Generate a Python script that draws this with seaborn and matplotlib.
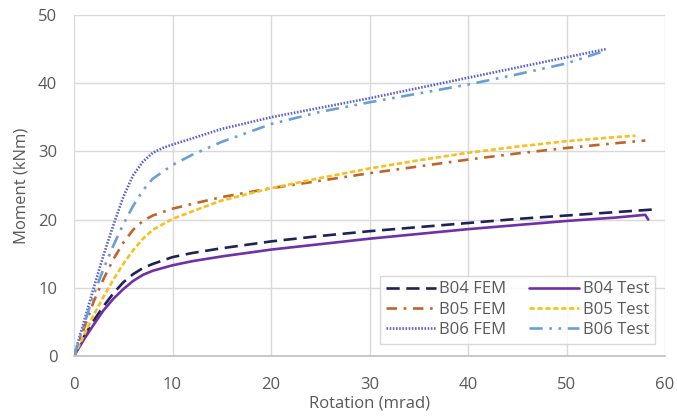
import matplotlib
matplotlib.use("Agg")
import matplotlib.pyplot as plt
from matplotlib.lines import Line2D
import seaborn as sns
import pandas as pd

# ---- data ----
b04_fem_x = [0, 1, 2, 3, 4, 5, 6, 7, 8, 10, 12, 15, 20, 25, 30, 35, 40, 45, 50, 55, 59]
b04_fem_y = [0, 2.8, 5.2, 7.3, 9.2, 10.8, 12.0, 12.9, 13.5, 14.5, 15.1, 15.8, 16.8, 17.6, 18.3, 18.9, 19.5, 20.1, 20.6, 21.1, 21.5]

b04_test_x = [0, 1, 2, 3, 4, 5, 6, 7, 8, 10, 12, 15, 20, 25, 30, 35, 40, 45, 50, 55, 58, 58.3]
b04_test_y = [0, 2.4, 4.6, 6.7, 8.4, 9.8, 11.0, 11.9, 12.5, 13.3, 13.9, 14.6, 15.6, 16.4, 17.2, 17.9, 18.6, 19.2, 19.8, 20.3, 20.7, 20.0]

b05_fem_x = [0, 1, 2, 3, 4, 5, 6, 7, 8, 10, 12, 15, 20, 25, 30, 35, 40, 45, 50, 55, 58]
b05_fem_y = [0, 4.0, 8.0, 11.3, 14.2, 16.6, 18.5, 19.8, 20.6, 21.6, 22.3, 23.3, 24.6, 25.7, 26.8, 27.8, 28.8, 29.7, 30.5, 31.2, 31.6]

b05_test_x = [0, 1, 2, 3, 4, 5, 6, 7, 8, 10, 12, 15, 20, 25, 30, 35, 40, 45, 50, 55, 57]
b05_test_y = [0, 3.0, 6.0, 8.7, 11.2, 13.5, 15.5, 17.2, 18.5, 20.1, 21.2, 22.8, 24.6, 26.1, 27.5, 28.7, 29.8, 30.7, 31.5, 32.1, 32.3]

b06_fem_x = [0, 1, 2, 3, 4, 5, 6, 7, 8, 9, 10, 12, 15, 20, 25, 30, 35, 40, 45, 50, 54]
b06_fem_y = [0, 5.0, 10.0, 14.8, 19.2, 23.3, 26.5, 28.5, 29.8, 30.5, 31.0, 31.9, 33.3, 35.0, 36.4, 37.8, 39.3, 40.8, 42.3, 43.8, 45.0]

b06_test_x = [0, 1, 2, 3, 4, 5, 6, 7, 8, 10, 12, 15, 20, 25, 30, 35, 40, 45, 50, 54]
b06_test_y = [0, 4.5, 9.0, 12.8, 16.2, 19.3, 22.0, 24.3, 26.0, 28.0, 29.5, 31.4, 34.0, 35.8, 37.2, 38.5, 39.8, 41.3, 42.9, 44.8]

series_names = ["B04 FEM", "B04 Test", "B05 FEM", "B05 Test", "B06 FEM", "B06 Test"]
series_x = [b04_fem_x, b04_test_x, b05_fem_x, b05_test_x, b06_fem_x, b06_test_x]
series_y = [b04_fem_y, b04_test_y, b05_fem_y, b05_test_y, b06_fem_y, b06_test_y]

x_ticks = [0, 10, 20, 30, 40, 50, 60]
y_ticks = [0, 10, 20, 30, 40, 50]

# ---- styling ----
colors = {
    "B04 FEM": "#1e2255",
    "B04 Test": "#7030a8",
    "B05 FEM": "#c0652a",
    "B05 Test": "#f5c020",
    "B06 FEM": "#5860cc",
    "B06 Test": "#6a9fd6",
}
dashes = {
    "B04 FEM": (5, 2.5),
    "B04 Test": "",
    "B05 FEM": (4, 2.5, 1, 2.5),
    "B05 Test": (2, 1),
    "B06 FEM": (0.6, 0.6),
    "B06 Test": (5, 2.5, 1, 2.5, 1, 2.5),
}
LW = 1.9
FS = 12
TXT = "#595959"

rows = []
for name, xs, ys in zip(series_names, series_x, series_y):
    for x, y in zip(xs, ys):
        rows.append({"series": name, "x": x, "y": y})
df = pd.DataFrame(rows)

sns.set_theme(style="whitegrid")
plt.rcParams["font.family"] = ["Open Sans", "DejaVu Sans"]

fig = plt.figure(figsize=(6.77, 4.19), dpi=100)
ax = fig.add_axes([74 / 677, 1 - 356 / 419, 591 / 677, 341 / 419])

sns.lineplot(data=df, x="x", y="y", hue="series", style="series",
             palette=colors, dashes=dashes, hue_order=series_names,
             style_order=series_names, sort=False, estimator=None,
             linewidth=LW, ax=ax, legend=False)

ax.set_xlim(0, 60)
ax.set_ylim(0, 50)
ax.set_xticks(x_ticks)
ax.set_yticks(y_ticks)
ax.grid(True, color="#d9d9d9", linewidth=1.0)
for side in ["top", "right", "left"]:
    ax.spines[side].set_visible(False)
ax.spines["bottom"].set_color("#bfbfbf")
ax.spines["bottom"].set_linewidth(1.2)
ax.tick_params(axis="both", labelsize=FS, colors=TXT, length=0)
ax.tick_params(axis="x", pad=15)
ax.tick_params(axis="y", pad=12)
ax.set_xlabel("Rotation (mrad)", fontsize=FS, color=TXT, labelpad=2)
ax.set_ylabel("Moment (kNm)", fontsize=FS, color=TXT, labelpad=6)

# legend: row-major order with 2 columns
order = ["B04 FEM", "B05 FEM", "B06 FEM", "B04 Test", "B05 Test", "B06 Test"]
handles = []
for name in order:
    ds = dashes[name]
    handles.append(Line2D([], [], color=colors[name], linewidth=LW,
                          linestyle="-" if ds == "" else (0, ds)))
leg = ax.legend(handles, order, ncol=2, loc="lower right",
                bbox_to_anchor=(0.997, 0.012), fontsize=FS,
                frameon=True, fancybox=False, edgecolor="#d0d0d0",
                handlelength=3.0, handletextpad=0.2, columnspacing=1.4,
                labelspacing=0.25, borderpad=0.35, labelcolor=TXT)
leg.get_frame().set_linewidth(1.0)

fig.savefig("out.png", dpi=100)
